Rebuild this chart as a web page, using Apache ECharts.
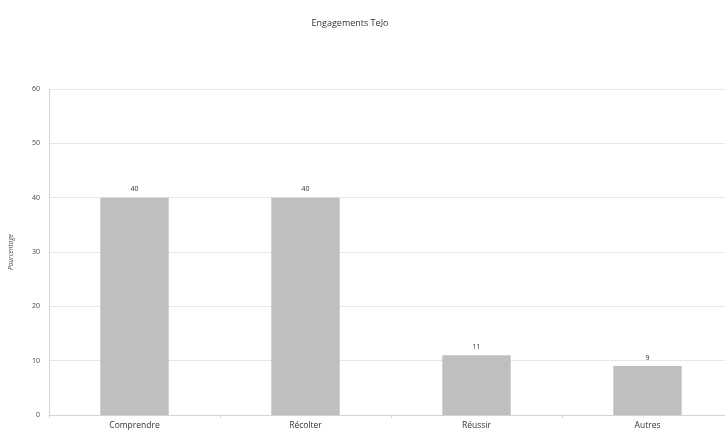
<!DOCTYPE html>
<html>
<head>
<meta charset="utf-8">
<script src="https://cdn.jsdelivr.net/npm/echarts@6/dist/echarts.min.js"></script>
<style>
  html, body { margin: 0; padding: 0; background: #fff; }
  #chart { width: 725px; height: 432px; }
</style>
</head>
<body>
<div id="chart"></div>
<script>
// Engagements by theme, in percent
const categories = ['Comprendre', 'Récolter', 'Réussir', 'Autres'];
const values = [40, 40, 11, 9];
const yTicks = [0, 10, 20, 30, 40, 50, 60];

const font = '"Open Sans", "DejaVu Sans", sans-serif';
const chart = echarts.init(document.getElementById('chart'), null, { renderer: 'canvas' });

chart.setOption({
  backgroundColor: '#ffffff',
  animation: false,
  title: {
    text: 'Engagements TeJo',
    left: 345,
    textAlign: 'center',
    top: 14,
    textStyle: { fontFamily: font, fontSize: 9, fontWeight: 'normal', color: '#333' }
  },
  // plot area runs slightly past the right edge of the page
  grid: { left: 49, width: 684, top: 89, height: 326, containLabel: false, outerBoundsMode: 'none' },
  xAxis: {
    type: 'category',
    data: categories,
    axisLine: { lineStyle: { color: '#d4d4d4', width: 1 } },
    axisTick: { show: true, alignWithLabel: false, length: 3, lineStyle: { color: '#d4d4d4' } },
    axisLabel: { fontFamily: font, fontSize: 8.5, color: '#333', margin: 6 }
  },
  yAxis: {
    type: 'value',
    min: yTicks[0],
    max: yTicks[yTicks.length - 1],
    interval: 10,
    name: 'Pourcentage',
    nameLocation: 'middle',
    nameGap: 34,
    nameTextStyle: { fontFamily: font, fontSize: 6.5, fontStyle: 'italic', color: '#444' },
    axisLine: { show: true, lineStyle: { color: '#d4d4d4', width: 1 } },
    axisTick: { show: false },
    axisLabel: { fontFamily: font, fontSize: 7, color: '#444', margin: 9 },
    splitLine: { lineStyle: { color: '#e6e6e6', width: 1 } }
  },
  series: [{
    type: 'bar',
    data: values,
    barWidth: '40%',
    itemStyle: { color: '#bfbfbf' },
    label: {
      show: true,
      position: 'top',
      distance: 5,
      fontFamily: font,
      fontSize: 7,
      color: '#333'
    }
  }]
});
</script>
</body>
</html>
